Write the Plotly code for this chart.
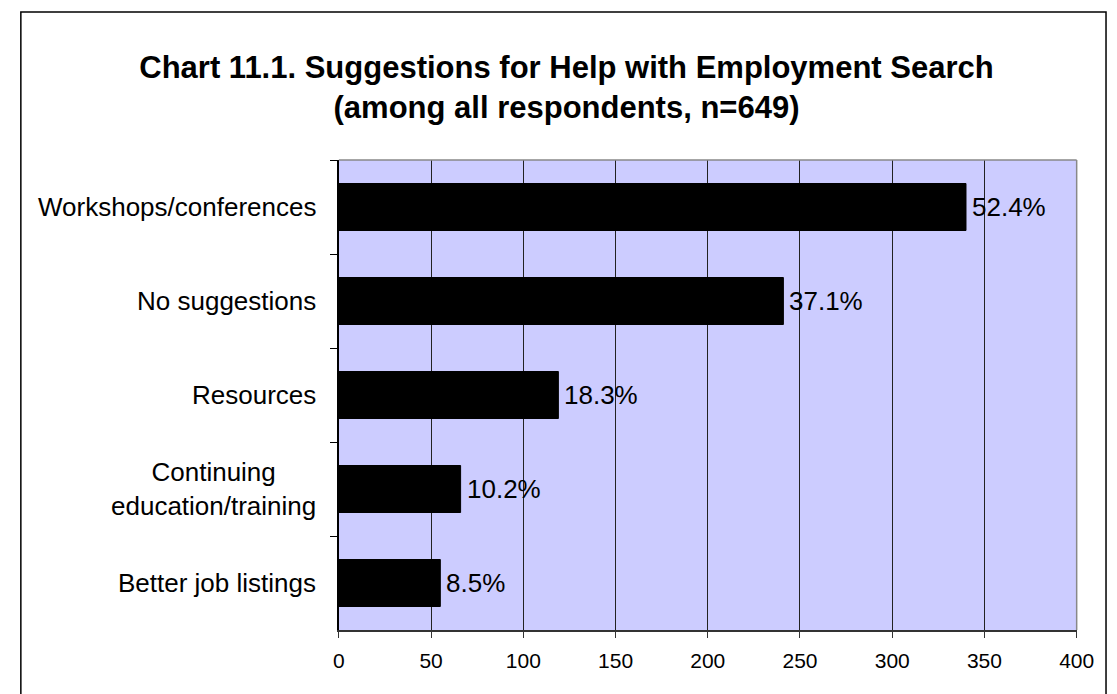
import plotly.graph_objects as go

categories = ["Workshops/conferences", "No suggestions", "Resources",
              "Continuing<br>education/training", "Better job listings"]
counts = [340, 241, 119, 66, 55]
pct_labels = ["52.4%", "37.1%", "18.3%", "10.2%", "8.5%"]
x_ticks = [0, 50, 100, 150, 200, 250, 300, 350, 400]

W, H = 1117, 694
L, R, T, B = 332, 1086, 152, 622
FONT = "Arial, Liberation Sans, sans-serif"

fig = go.Figure()
fig.add_trace(go.Bar(
    y=categories, x=counts, orientation="h",
    marker=dict(color="#000000", line=dict(color="#000000", width=1)),
    width=0.5, hoverinfo="skip", showlegend=False,
))

for c, v, t in zip(categories, counts, pct_labels):
    fig.add_annotation(x=v, y=c, xref="x", yref="y", text=t, showarrow=False,
                       xanchor="left", yanchor="middle", xshift=4,
                       font=dict(family=FONT, size=26, color="#000000"))
    fig.add_annotation(x=(L - 21) / W, y=c, xref="paper", yref="y", text=c,
                       showarrow=False, xanchor="right", yanchor="middle",
                       align="center",
                       font=dict(family=FONT, size=26, color="#000000"))

fig.update_layout(
    width=W, height=H,
    margin=dict(l=0, r=0, t=0, b=0),
    paper_bgcolor="#FFFFFF", plot_bgcolor="#CCCCFF",
    title=dict(text="<b>Chart 11.1. Suggestions for Help with Employment Search<br>(among all respondents, n=649)</b>",
               x=0.5, xanchor="center", y=1 - 70 / H, yanchor="middle",
               font=dict(family=FONT, size=31, color="#000000")),
    xaxis=dict(domain=[L / W, R / W], range=[0, 400], tickvals=x_ticks,
               showgrid=True, gridcolor="#222222", gridwidth=1,
               zeroline=False, showline=True, linecolor="#333333", linewidth=1.5,
               ticks="outside", ticklen=6, tickcolor="#333333",
               ticklabelstandoff=5,
               tickfont=dict(family=FONT, size=21, color="#000000")),
    yaxis=dict(domain=[1 - B / H, 1 - T / H], autorange="reversed",
               categoryorder="array", categoryarray=categories,
               showticklabels=False, showgrid=False, zeroline=False,
               showline=True, linecolor="#000000", linewidth=1.5,
               ticks="outside", ticklen=7, tickcolor="#000000",
               tickson="boundaries"),
    bargap=0.5,
)

# plot border (top/right gray)
fig.add_shape(type="line", xref="paper", yref="paper",
              x0=L / W, x1=R / W, y0=1 - T / H, y1=1 - T / H,
              line=dict(color="#888888", width=1.5))
fig.add_shape(type="line", xref="paper", yref="paper",
              x0=R / W, x1=R / W, y0=1 - T / H, y1=1 - B / H,
              line=dict(color="#888888", width=1.5))
# outer chart frame
fig.add_shape(type="rect", xref="paper", yref="paper",
              x0=7 / W, x1=1116 / W, y0=-0.05, y1=1 - 4 / H,
              line=dict(color="#000000", width=1.5), fillcolor="rgba(0,0,0,0)")

fig.write_html("out.html")
